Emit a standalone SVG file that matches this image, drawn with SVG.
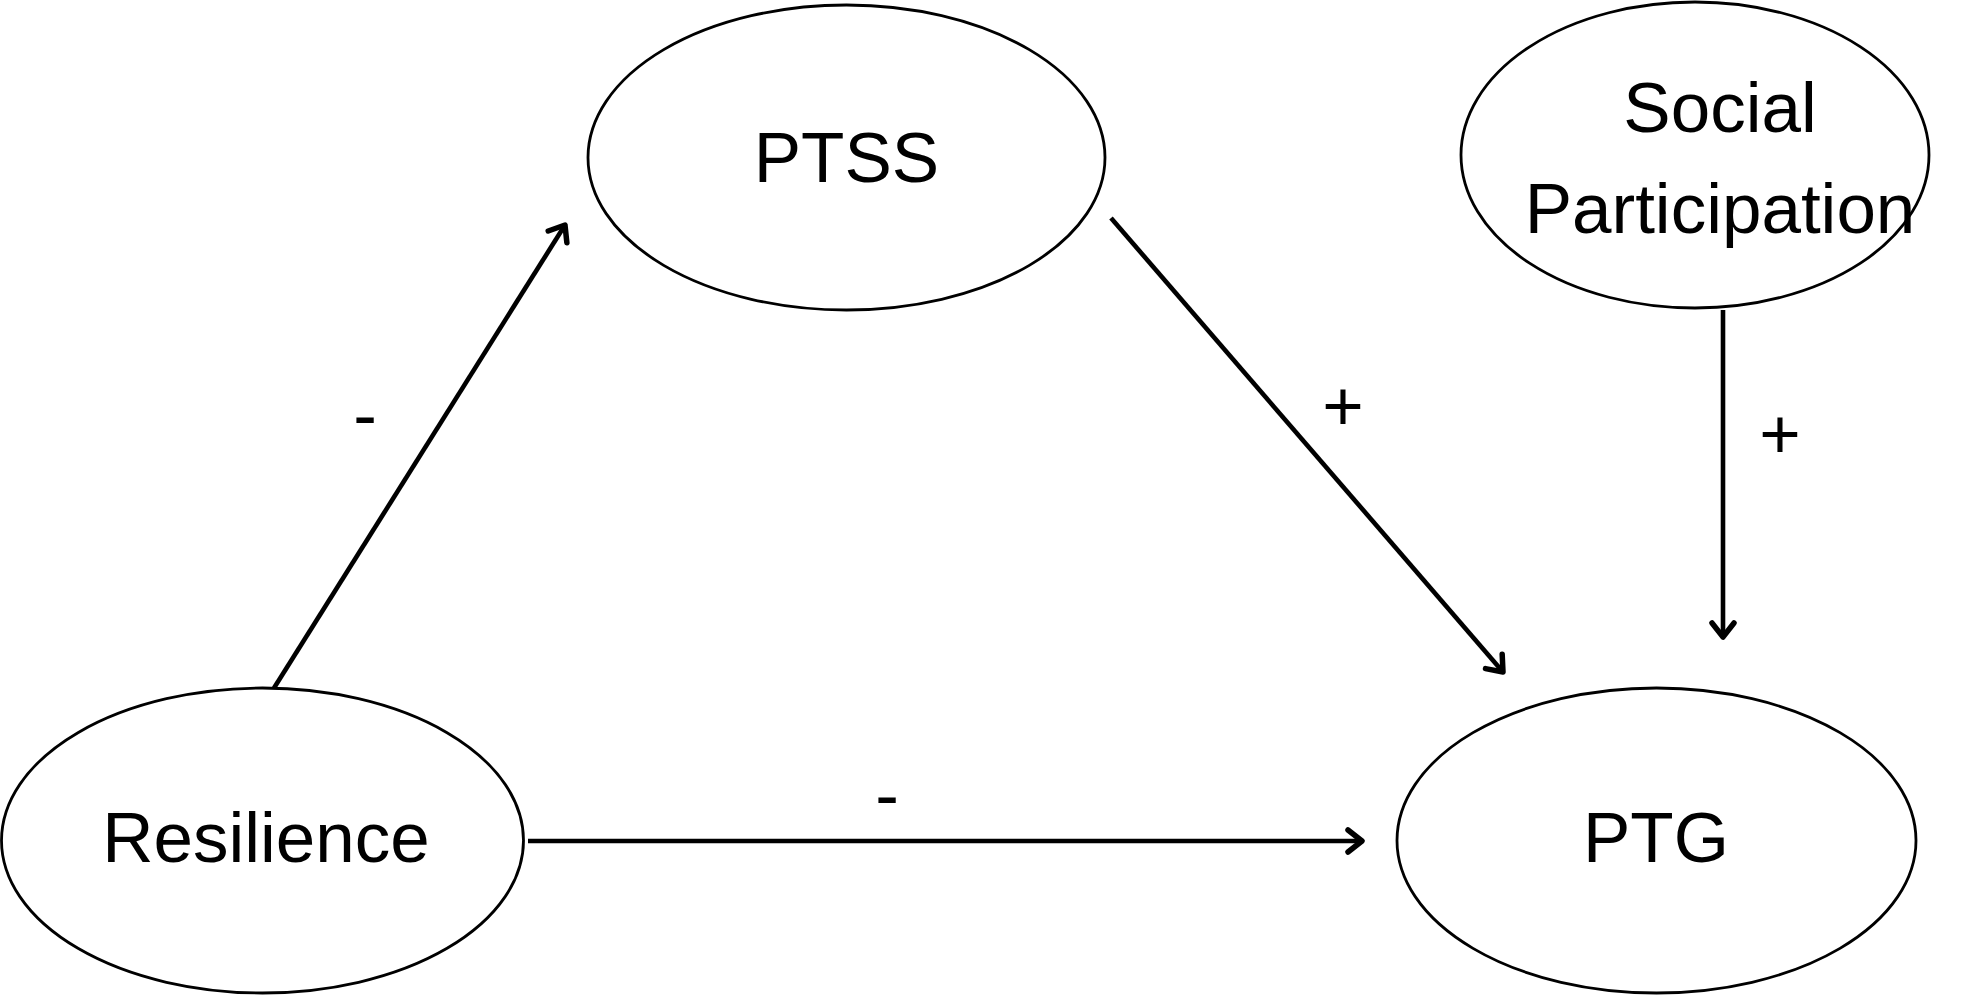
<svg xmlns="http://www.w3.org/2000/svg" width="1983" height="998" viewBox="0 0 1983 998">
<style>
.node{fill:#fff;stroke:#000;stroke-width:2.8}
.lbl{font-family:"Liberation Sans",Arial,sans-serif;font-size:71px;fill:#000;text-anchor:middle}
.edge{stroke:#000;stroke-width:4.6;fill:none}
.sign{font-family:"Liberation Sans",Arial,sans-serif;font-size:71px;fill:#000;text-anchor:middle}
</style>
<defs>
<marker id="arr" markerUnits="userSpaceOnUse" markerWidth="40" markerHeight="40" viewBox="-20 -20 40 40" refX="0" refY="0" orient="auto" overflow="visible">
<path d="M-14,-11 L0,0 L-14,11" fill="none" stroke="#000" stroke-width="5.5" stroke-linecap="round" stroke-linejoin="round"/>
</marker>
</defs>
<rect width="1983" height="998" fill="#fff"/>
<g id="connectors">
<line class="edge" x1="274" y1="688" x2="565" y2="225" marker-end="url(#arr)"/>
<line class="edge" x1="1111" y1="218" x2="1503" y2="672" marker-end="url(#arr)"/>
<line class="edge" x1="1723" y1="310" x2="1723" y2="637" marker-end="url(#arr)"/>
<line class="edge" x1="528" y1="841" x2="1362" y2="841" marker-end="url(#arr)"/>
<text class="sign" x="365" y="439">-</text>
<text class="sign" x="1343" y="430">+</text>
<text class="sign" x="1780" y="458">+</text>
<text class="sign" x="887" y="819">-</text>
</g>
<g id="node-ptss">
<ellipse class="node" cx="846.5" cy="157.5" rx="258.5" ry="152.5"/>
<text class="lbl" x="846.5" y="182">PTSS</text>
</g>
<g id="node-social">
<ellipse class="node" cx="1695" cy="155" rx="234" ry="153"/>
<text class="lbl" x="1720" y="132">Social</text>
<text class="lbl" x="1720" y="233">Participation</text>
</g>
<g id="node-resilience">
<ellipse class="node" cx="262.5" cy="840.5" rx="261" ry="152.5"/>
<text class="lbl" x="266" y="862">Resilience</text>
</g>
<g id="node-ptg">
<ellipse class="node" cx="1656.5" cy="840.5" rx="259.5" ry="152.5"/>
<text class="lbl" x="1656" y="862">PTG</text>
</g>
</svg>
